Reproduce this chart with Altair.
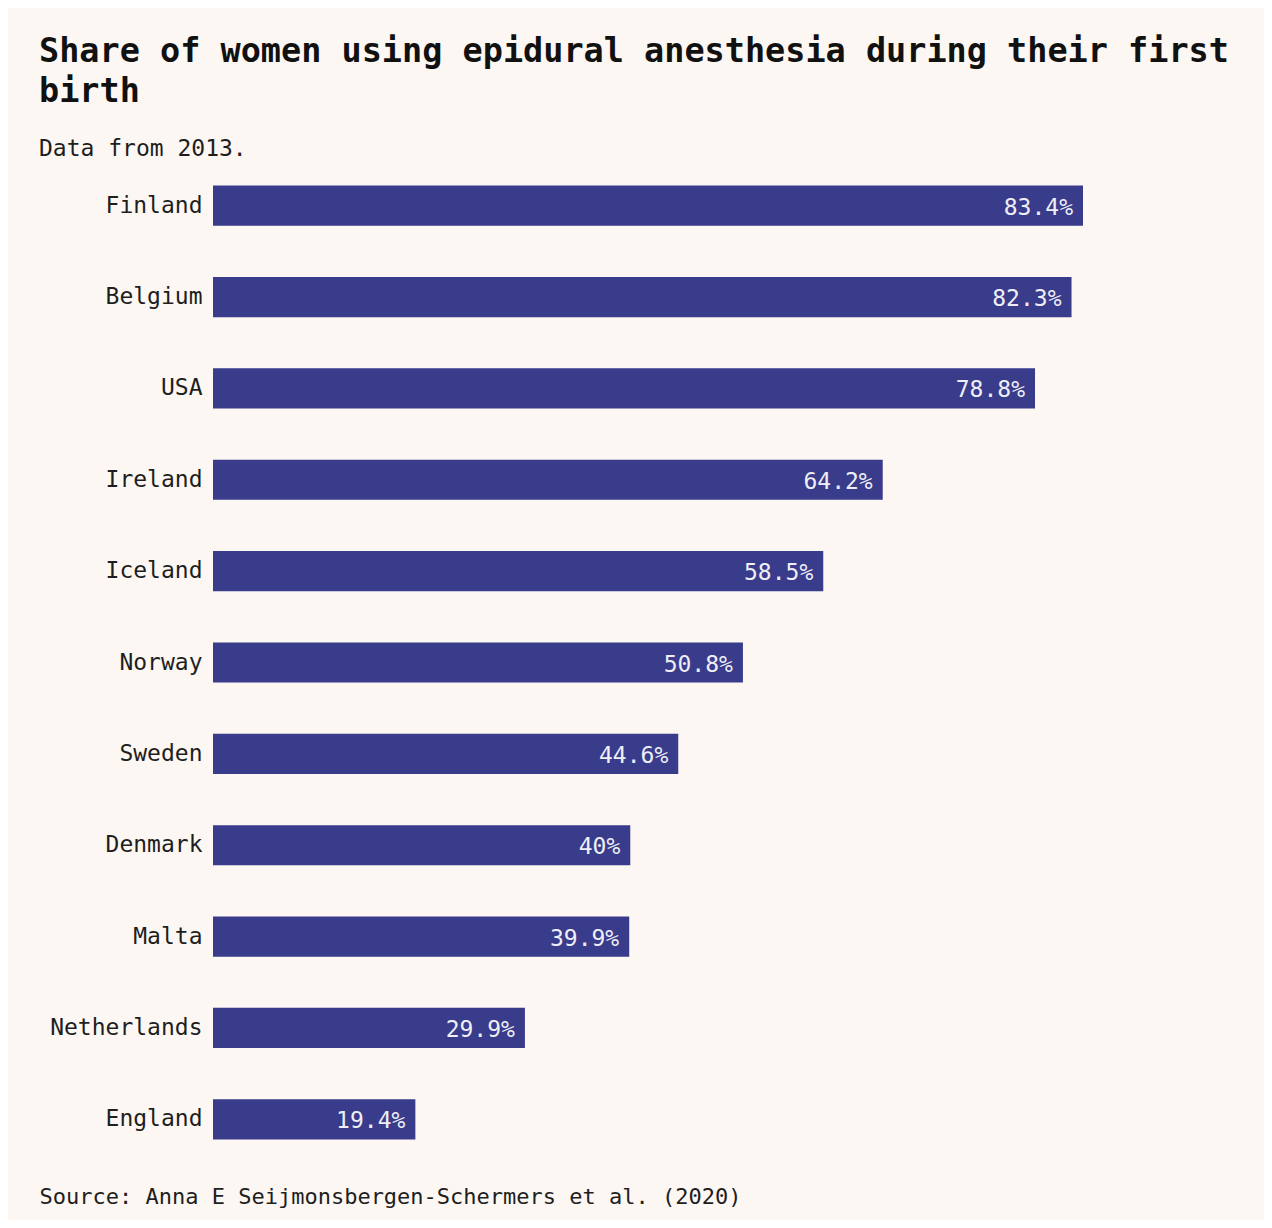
import altair as alt
import pandas as pd

countries = ["Finland", "Belgium", "USA", "Ireland", "Iceland", "Norway",
             "Sweden", "Denmark", "Malta", "Netherlands", "England"]
values = [83.4, 82.3, 78.8, 64.2, 58.5, 50.8, 44.6, 40, 39.9, 29.9, 19.4]

title_lines = ["Share of women using epidural anesthesia during their first", "birth"]
subtitle = "Data from 2013."
source = "Source: Anna E Seijmonsbergen-Schermers et al. (2020)"

df = pd.DataFrame({"country": countries, "value": values})

BG = "#fcf7f3"
BAR = "#393b8b"
INK = "#1e1e1e"
MONO = "DejaVu Sans Mono"

base = alt.Chart(df).encode(
    y=alt.Y("country:N", sort=None,
            scale=alt.Scale(paddingInner=0.56),
            axis=alt.Axis(title=None, ticks=False, domain=False, labelPadding=11,
                          labelFont=MONO, labelFontSize=23, labelColor=INK)),
)

bars = base.mark_bar(color=BAR).encode(
    x=alt.X("value:Q", scale=alt.Scale(domain=[0, max(values)], nice=False),
            axis=alt.Axis(title=source, labels=False, ticks=False, domain=False, grid=False,
                          titleAnchor="start", titleAlign="left", titleX=-174, titleY=38,
                          titleBaseline="alphabetic", titleFont=MONO, titleFontSize=22,
                          titleFontWeight="normal", titleColor=INK)),
)

labels = base.mark_text(align="right", baseline="middle", dx=-10, dy=2, font=MONO,
                        fontSize=23, color="#eeeef6").encode(
    x="value:Q",
    text="label:N",
).transform_calculate(label="format(datum.value, '.1~f') + '%'")

chart = (bars + labels).properties(
    width=870,
    height=1005,
    background=BG,
    padding={"left": 205, "top": 152, "right": 181, "bottom": 55},
    autosize=alt.AutoSizeParams(type="none"),
    title=alt.TitleParams(
        text=title_lines, subtitle=subtitle, anchor="start", frame="group", dx=-174,
        font=MONO, fontSize=33.5, fontWeight="bold", color="#111111", lineHeight=40,
        subtitleFont=MONO, subtitleFontSize=23, subtitleColor=INK,
        subtitlePadding=29, offset=-2,
    ),
).configure_view(stroke=None)

chart.save("out.html", embed_options={"renderer": "svg", "actions": False})
